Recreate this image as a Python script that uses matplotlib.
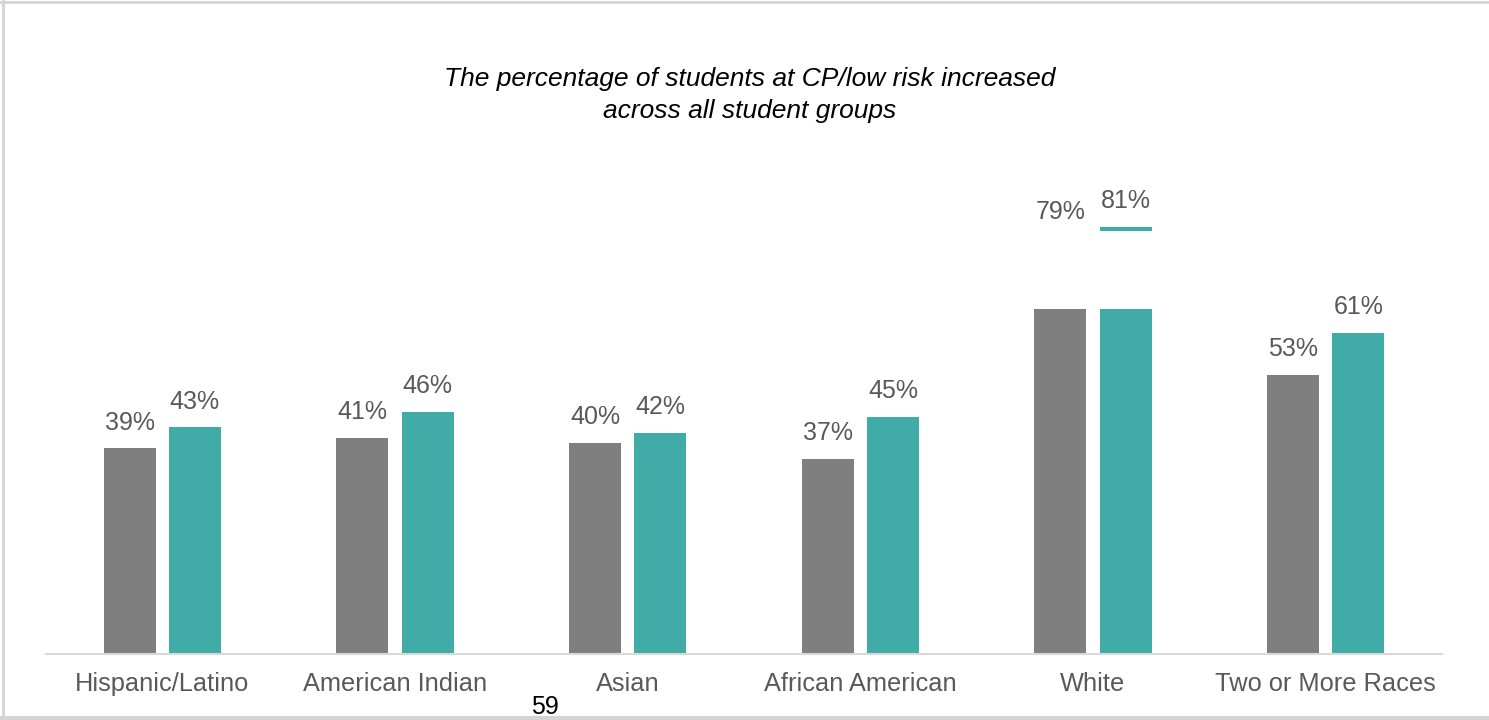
import matplotlib
matplotlib.use("Agg")
import matplotlib.pyplot as plt
from matplotlib.patches import Rectangle
import numpy as np

plt.rcParams['font.family'] = ['Liberation Sans', 'DejaVu Sans']

categories = ["Hispanic/Latino", "American Indian", "Asian",
              "African American", "White", "Two or More Races"]
earlier = [39, 41, 40, 37, 79, 53]
later = [43, 46, 42, 45, 81, 61]

grey = "#7f7f7f"
teal = "#41aca7"
label_color = "#595959"

fig = plt.figure(figsize=(14.89, 7.2), dpi=100)
ax = fig.add_axes([46 / 1489, 1 - 654 / 720, (1442 - 46) / 1489, 527 / 720])

x = np.arange(len(categories))
width = 0.224
offset = 0.14

b1 = ax.bar(x - offset, earlier, width, color=grey, zorder=2)
b2 = ax.bar(x + offset, later, width, color=teal, zorder=2)

for bars, vals in ((b1, earlier), (b2, later)):
    for rect, v in zip(bars, vals):
        ax.annotate(f"{v}%", (rect.get_x() + rect.get_width() / 2, v),
                    xytext=(0, 10), textcoords="offset points",
                    ha="center", va="bottom", fontsize=18, color=label_color,
                    zorder=5)

# blank patch partly hiding the White group's bars
wi = categories.index("White")
ax.add_patch(Rectangle((wi - 0.45, 65.4), 0.9, 14.9, facecolor="white",
                       edgecolor="none", zorder=3))

ax.set_xlim(-0.5, len(categories) - 0.5)
ax.set_ylim(0, 100)
ax.set_xticks(x)
ax.set_xticklabels(categories, fontsize=18.3, color=label_color)
ax.tick_params(axis="x", length=0, pad=13)
ax.set_yticks([])
for side in ("top", "right", "left"):
    ax.spines[side].set_visible(False)
ax.spines["bottom"].set_color("#d9d9d9")
ax.spines["bottom"].set_linewidth(1.5)

fig.text(750 / 1489, 1 - 95 / 720,
         "The percentage of students at CP/low risk increased\nacross all student groups",
         ha="center", va="center", fontsize=19, style="italic", color="black",
         linespacing=1.45)

fig.text(545 / 1489, 1 - 707 / 720, "59", ha="center", va="center",
         fontsize=18, color="black")

# light frame around the slide (left, top, bottom)
fig.add_artist(plt.Line2D([3 / 1489, 3 / 1489], [0, 1], color="#d4d4d4", lw=2,
                          transform=fig.transFigure))
fig.add_artist(plt.Line2D([0, 1], [1 - 2 / 720, 1 - 2 / 720], color="#d4d4d4", lw=2,
                          transform=fig.transFigure))
fig.add_artist(plt.Line2D([0, 1], [1 - 718 / 720, 1 - 718 / 720], color="#d4d4d4",
                          lw=3, transform=fig.transFigure))

fig.savefig("out.png", dpi=100)
